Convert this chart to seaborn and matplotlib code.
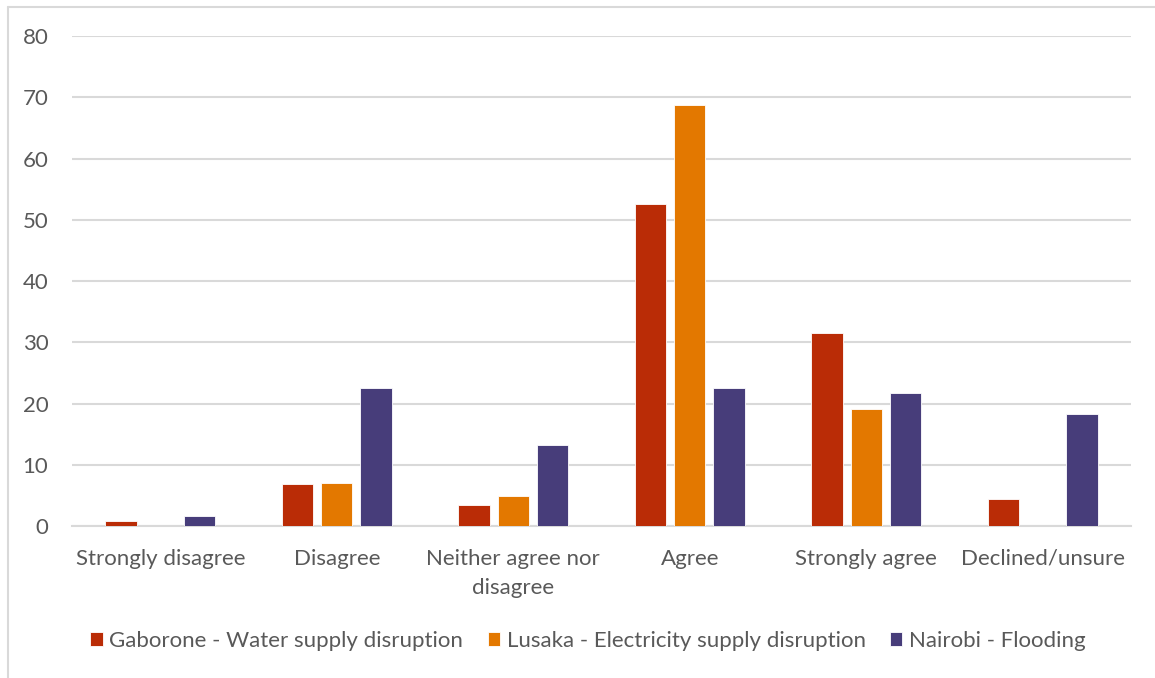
import matplotlib
matplotlib.use("Agg")
import matplotlib.pyplot as plt
import seaborn as sns
import pandas as pd
from matplotlib.lines import Line2D

categories = ["Strongly disagree", "Disagree", "Neither agree nor\ndisagree",
              "Agree", "Strongly agree", "Declined/unsure"]
series = ["Gaborone - Water supply disruption",
          "Lusaka - Electricity supply disruption",
          "Nairobi - Flooding"]
gaborone = [0.8, 6.9, 3.4, 52.6, 31.6, 4.4]
lusaka = [0.0, 7.0, 5.0, 68.7, 19.2, 0.0]
nairobi = [1.6, 22.5, 13.3, 22.5, 21.7, 18.4]
colors = ["#BA2C06", "#E37800", "#473D7A"]
yticks = [0, 10, 20, 30, 40, 50, 60, 70, 80]

rows = []
for s, vals in zip(series, [gaborone, lusaka, nairobi]):
    for c, v in zip(categories, vals):
        rows.append({"category": c, "series": s, "value": v})
df = pd.DataFrame(rows)

sns.set_theme(style="white")
plt.rcParams["font.family"] = ["Lato", "DejaVu Sans"]
TXT = "#595959"
GRID = "#D9D9D9"

W, H = 1155, 678
fig = plt.figure(figsize=(W / 100, H / 100), dpi=100)
left, right = 72, 1131
y0, y80 = 526.3, 36.0
ax = fig.add_axes([left / W, 1 - y0 / H, (right - left) / W, (y0 - y80) / H])

sns.barplot(data=df, x="category", y="value", hue="series", order=categories,
            hue_order=series, palette=colors, width=0.665, gap=0.2,
            saturation=1, edgecolor="white", linewidth=0.6, ax=ax, zorder=3)

ax.set_xlim(-0.5, len(categories) - 0.5)
ax.set_ylim(0, 80)
ax.set_yticks(yticks)
ax.set_yticklabels([str(t) for t in yticks])
ax.yaxis.grid(True, color=GRID, linewidth=1.5, zorder=0)
ax.set_axisbelow(True)
for sp in ["top", "right", "left"]:
    ax.spines[sp].set_visible(False)
ax.spines["bottom"].set_color(GRID)
ax.spines["bottom"].set_linewidth(1.5)
ax.set_xlabel("")
ax.set_ylabel("")
ax.tick_params(axis="y", length=0, pad=17, labelsize=16, labelcolor=TXT)
ax.tick_params(axis="x", length=0, pad=16, labelsize=16, labelcolor=TXT)
for lab in ax.get_xticklabels():
    lab.set_linespacing(1.6)

handles, labels = ax.get_legend_handles_labels()
ax.get_legend().remove()
fig.legend(handles, labels, loc="center", bbox_to_anchor=(588 / W, 1 - 641 / H),
           ncol=3, frameon=False, fontsize=16, labelcolor=TXT,
           handlelength=0.55, handleheight=0.55, handletextpad=0.3,
           columnspacing=1.1)

fig.add_artist(Line2D([8 / W, 8 / W], [0, 1 - 7 / H], transform=fig.transFigure,
                      color=GRID, linewidth=1.5))
fig.add_artist(Line2D([8 / W, 1], [1 - 7 / H, 1 - 7 / H], transform=fig.transFigure,
                      color=GRID, linewidth=1.5))

fig.savefig("out.png", dpi=100)
